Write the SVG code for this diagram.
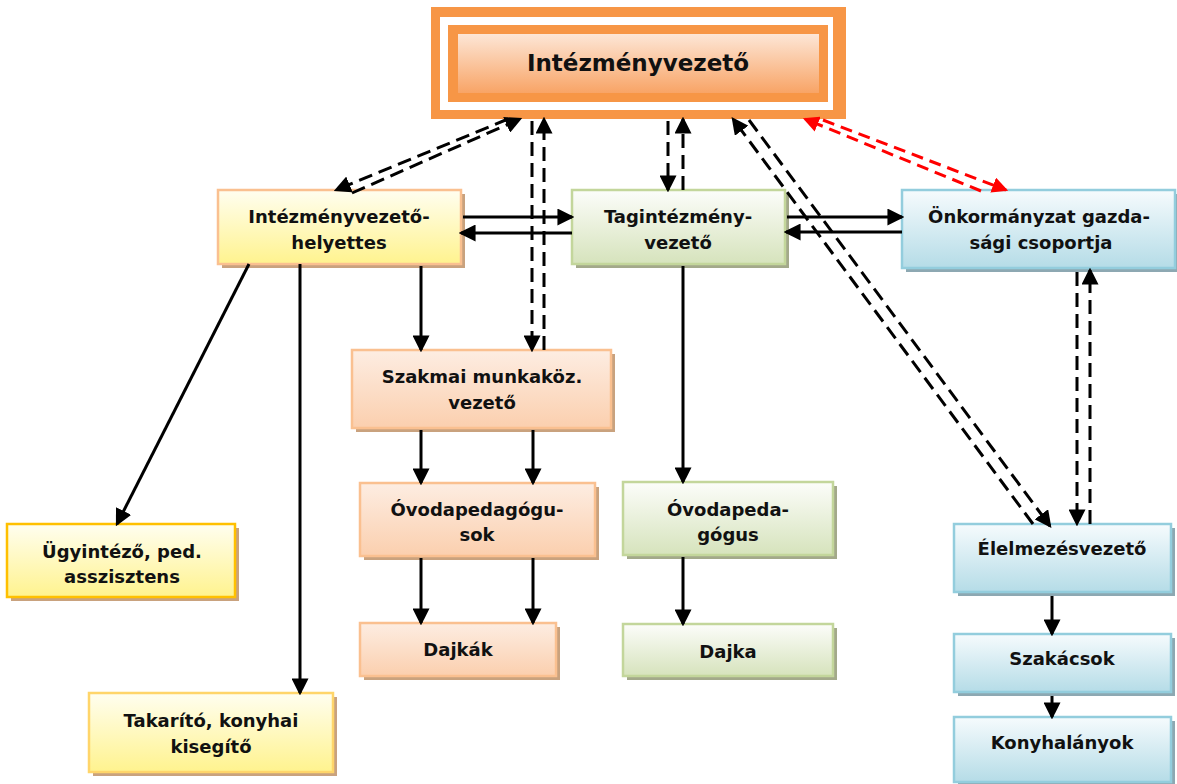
<svg xmlns="http://www.w3.org/2000/svg" width="1177" height="784" viewBox="0 0 1177 784">
<defs>
<linearGradient id="gTop" x1="0" y1="0" x2="0" y2="1"><stop offset="0" stop-color="#FDE6D6"/><stop offset="1" stop-color="#F8A466"/></linearGradient>
<linearGradient id="gYel" x1="0" y1="0" x2="0" y2="1"><stop offset="0" stop-color="#FFFEF0"/><stop offset="1" stop-color="#FFF38E"/></linearGradient>
<linearGradient id="gOra" x1="0" y1="0" x2="0" y2="1"><stop offset="0" stop-color="#FDEDE2"/><stop offset="1" stop-color="#FBCFAE"/></linearGradient>
<linearGradient id="gGrn" x1="0" y1="0" x2="0" y2="1"><stop offset="0" stop-color="#FCFDFA"/><stop offset="1" stop-color="#D6E3BC"/></linearGradient>
<linearGradient id="gBlu" x1="0" y1="0" x2="0" y2="1"><stop offset="0" stop-color="#F6FBFD"/><stop offset="1" stop-color="#B5DCE7"/></linearGradient>
<marker id="ah" markerUnits="userSpaceOnUse" markerWidth="17" markerHeight="17" viewBox="0 0 14 14" refX="12" refY="7" orient="auto"><path d="M0,0 L14,7 L0,14 z" fill="#000"/></marker>
<marker id="ahr" markerUnits="userSpaceOnUse" markerWidth="16" markerHeight="16" viewBox="0 0 14 14" refX="12" refY="7" orient="auto"><path d="M0,0 L14,7 L0,14 z" fill="#FF0000"/></marker>
<style>
text{font-family:"DejaVu Sans","Liberation Sans",sans-serif;font-weight:bold;font-size:18px;fill:#111;text-anchor:middle}
.sy{fill:#C9A27E}.so{fill:#C9A27E}.sg{fill:#A3A98A}.sb{fill:#8DA8B2}
.ny{fill:url(#gYel);stroke:#FAC090;stroke-width:2.5}
.no{fill:url(#gOra);stroke:#FAC090;stroke-width:2.5}
.ng{fill:url(#gGrn);stroke:#C3D69B;stroke-width:2.5}
.nb{fill:url(#gBlu);stroke:#93CDDD;stroke-width:2.5}
.s{stroke:#000;stroke-width:3;fill:none;marker-end:url(#ah)}
.d{stroke:#000;stroke-width:3;fill:none;stroke-dasharray:14 7;marker-end:url(#ah)}
.r{stroke:#FF0000;stroke-width:3;fill:none;stroke-dasharray:12 7;marker-end:url(#ahr)}
</style>
</defs>
<rect width="1177" height="784" fill="#fff"/>

<g id="n-top">
<rect x="431" y="7" width="415" height="112" fill="#F79646"/>
<rect x="440" y="17" width="393" height="93" fill="#fff"/>
<rect x="448" y="25" width="380" height="77" fill="#F79646"/>
<rect x="458" y="34" width="361" height="59" fill="url(#gTop)"/>
<text x="638" y="71" style="font-size:23px">Intézményvezető</text>
</g>

<g id="n-helyettes">
<rect class="sy" x="222" y="194" width="243" height="74"/>
<rect class="ny" x="218" y="190" width="243" height="74"/>
<text x="339" y="223">Intézményvezető-</text>
<text x="339" y="249">helyettes</text>
</g>

<g id="n-tag">
<rect class="sg" x="576" y="194" width="213" height="74"/>
<rect class="ng" x="572" y="190" width="213" height="74"/>
<text x="678" y="223">Tagintézmény-</text>
<text x="678" y="249">vezető</text>
</g>

<g id="n-onk">
<rect class="sb" x="906" y="194" width="273" height="78"/>
<rect class="nb" x="902" y="190" width="273" height="78"/>
<text x="1039" y="223">Önkormányzat gazda-</text>
<text x="1041" y="249">sági csoportja</text>
</g>

<g id="n-szakmai">
<rect class="so" x="356" y="354" width="259" height="78"/>
<rect class="no" x="352" y="350" width="259" height="78"/>
<text x="482" y="383">Szakmai munkaköz.</text>
<text x="482" y="409">vezető</text>
</g>

<g id="n-ovped">
<rect class="so" x="364" y="487" width="235" height="73"/>
<rect class="no" x="360" y="483" width="235" height="73"/>
<text x="477" y="516">Óvodapedagógu-</text>
<text x="477" y="541">sok</text>
</g>

<g id="n-dajkak">
<rect class="so" x="364" y="627" width="196" height="53"/>
<rect class="no" x="360" y="623" width="196" height="53"/>
<text x="458" y="656">Dajkák</text>
</g>

<g id="n-ovpeda">
<rect class="sg" x="627" y="486" width="210" height="73"/>
<rect class="ng" x="623" y="482" width="210" height="73"/>
<text x="728" y="516">Óvodapeda-</text>
<text x="728" y="541">gógus</text>
</g>

<g id="n-dajka">
<rect class="sg" x="627" y="628" width="210" height="52"/>
<rect class="ng" x="623" y="624" width="210" height="52"/>
<text x="728" y="658">Dajka</text>
</g>

<g id="n-ugyintezo">
<rect class="sy" x="11" y="528" width="228" height="73"/>
<rect class="ny" x="7" y="524" width="228" height="73" style="stroke:#FFC000"/>
<text x="122" y="558">Ügyintéző, ped.</text>
<text x="122" y="583">asszisztens</text>
</g>

<g id="n-takarito">
<rect class="sy" x="93" y="697" width="244" height="79"/>
<rect class="ny" x="89" y="693" width="244" height="79" style="stroke:#FFD56A"/>
<text x="211" y="727">Takarító, konyhai</text>
<text x="211" y="753">kisegítő</text>
</g>

<g id="n-elelmezes">
<rect class="sb" x="958" y="528" width="217" height="68"/>
<rect class="nb" x="954" y="524" width="217" height="68"/>
<text x="1062" y="555">Élelmezésvezető</text>
</g>

<g id="n-szakacsok">
<rect class="sb" x="958" y="638" width="217" height="58"/>
<rect class="nb" x="954" y="634" width="217" height="58"/>
<text x="1062" y="665">Szakácsok</text>
</g>

<g id="n-konyhalanyok">
<rect class="sb" x="958" y="721" width="217" height="65"/>
<rect class="nb" x="954" y="717" width="217" height="65"/>
<text x="1062" y="749">Konyhalányok</text>
</g>

<g id="connectors">
<line class="s" x1="463" y1="217" x2="572" y2="217"/>
<line class="s" x1="572" y1="233" x2="461" y2="233"/>
<line class="s" x1="787" y1="217" x2="902" y2="217"/>
<line class="s" x1="902" y1="232" x2="786" y2="232"/>
<line class="s" x1="249" y1="264" x2="117" y2="524"/>
<line class="s" x1="300" y1="264" x2="300" y2="693"/>
<line class="s" x1="421" y1="266" x2="421" y2="350"/>
<line class="s" x1="421" y1="430" x2="421" y2="483"/>
<line class="s" x1="533" y1="430" x2="533" y2="483"/>
<line class="s" x1="421" y1="558" x2="421" y2="623"/>
<line class="s" x1="533" y1="558" x2="533" y2="623"/>
<line class="s" x1="683" y1="266" x2="683" y2="482"/>
<line class="s" x1="683" y1="557" x2="683" y2="624"/>
<line class="s" x1="1052" y1="596" x2="1052" y2="634"/>
<line class="s" x1="1052" y1="696" x2="1052" y2="717"/>

<line class="d" x1="508" y1="119" x2="336" y2="190"/>
<line class="d" x1="352" y1="193" x2="520" y2="119"/>
<line class="d" x1="532" y1="121" x2="532" y2="350"/>
<line class="d" x1="544" y1="350" x2="544" y2="119"/>
<line class="d" x1="668" y1="121" x2="668" y2="190"/>
<line class="d" x1="683" y1="190" x2="683" y2="119"/>
<line class="d" x1="1033" y1="524" x2="733" y2="119"/>
<line class="d" x1="749" y1="120" x2="1050" y2="526"/>
<line class="d" x1="1077" y1="272" x2="1077" y2="524"/>
<line class="d" x1="1090" y1="524" x2="1090" y2="270"/>

<line class="r" x1="981" y1="191" x2="805" y2="119"/>
<line class="r" x1="823" y1="120" x2="1006" y2="190"/>
</g>
</svg>
